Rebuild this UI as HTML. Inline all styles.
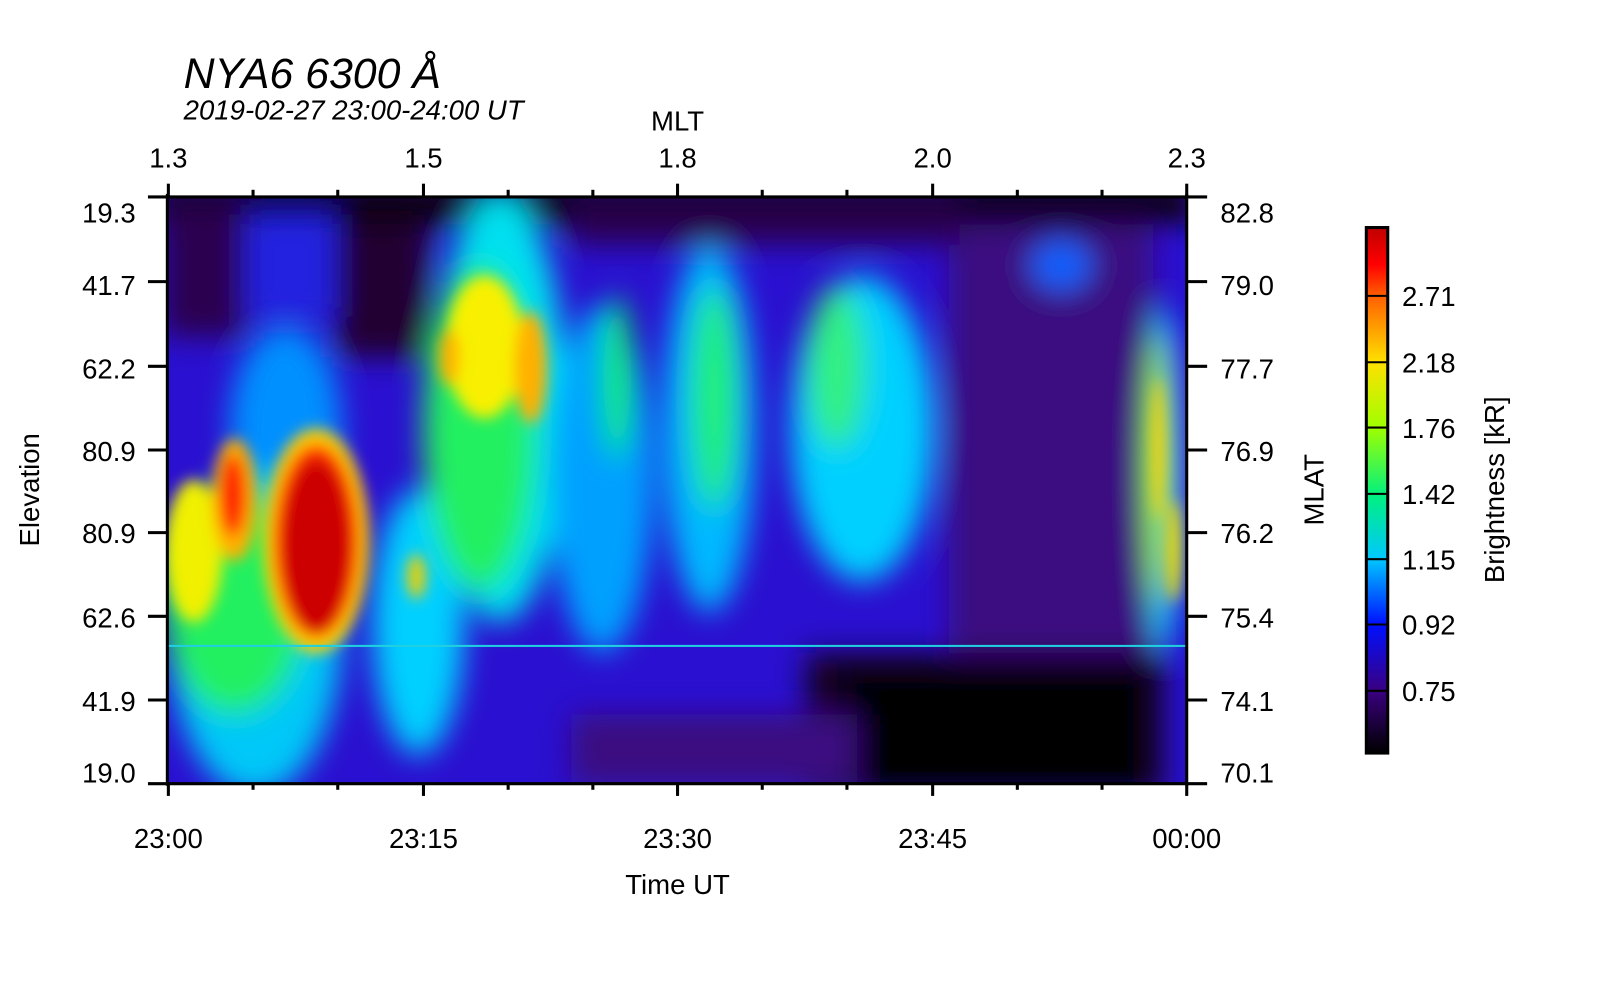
<!DOCTYPE html>
<html><head><meta charset="utf-8"><style>
html,body{margin:0;padding:0;background:#fff;}
svg{display:block;font-family:"Liberation Sans",sans-serif;}
</style></head><body>
<svg width="1600" height="1000" viewBox="0 0 1600 1000" xmlns="http://www.w3.org/2000/svg">
<defs>
<filter id="b" x="-20%" y="-20%" width="140%" height="140%"><feGaussianBlur stdDeviation="14"/></filter>
<filter id="b2" x="-20%" y="-20%" width="140%" height="140%"><feGaussianBlur stdDeviation="7"/></filter>
<clipPath id="c"><rect x="165" y="193" width="998" height="575"/></clipPath>
<linearGradient id="cb" x1="0" y1="1" x2="0" y2="0">
<stop offset="0" stop-color="#000"/>
<stop offset="0.118" stop-color="#3a0080"/>
<stop offset="0.245" stop-color="#0010ff"/>
<stop offset="0.37" stop-color="#00c8ff"/>
<stop offset="0.49" stop-color="#00f080"/>
<stop offset="0.62" stop-color="#a0ff00"/>
<stop offset="0.744" stop-color="#ffe000"/>
<stop offset="0.87" stop-color="#ff6000"/>
<stop offset="0.93" stop-color="#ff0000"/>
<stop offset="1" stop-color="#c00000"/>
</linearGradient>
</defs>
<g transform="scale(1.0204)">
<g clip-path="url(#c)">
<rect x="165" y="193" width="998" height="575" fill="#2a10d0"/>
<g filter="url(#b)">
<rect x="930" y="193" width="200" height="575" fill="#3a0a80"/>
<rect x="790" y="640" width="350" height="140" fill="#150020"/>
<rect x="830" y="660" width="290" height="110" fill="#050005"/>
<rect x="560" y="700" width="280" height="70" fill="#3a0a80"/>
<rect x="150" y="180" width="1020" height="40" fill="#100010"/>
<rect x="160" y="200" width="80" height="130" fill="#2a0050"/>
<rect x="330" y="220" width="90" height="130" fill="#200030"/>
<rect x="240" y="210" width="90" height="100" fill="#2020e0"/>
<rect x="560" y="200" width="380" height="40" fill="#2a0050"/>
<ellipse cx="280" cy="420" rx="55" ry="100" fill="#0090ff"/>
<ellipse cx="250" cy="620" rx="85" ry="160" fill="#00c8f8"/>
<ellipse cx="410" cy="610" rx="45" ry="130" fill="#00d0ff"/>
<ellipse cx="490" cy="400" rx="65" ry="210" fill="#00e0f0"/>
<ellipse cx="590" cy="470" rx="50" ry="170" fill="#00a0ff"/>
<ellipse cx="695" cy="420" rx="45" ry="180" fill="#00b8ff"/>
<ellipse cx="845" cy="420" rx="70" ry="150" fill="#00d0ff"/>
<ellipse cx="1140" cy="470" rx="16" ry="170" fill="#00d8ff"/>
<ellipse cx="1040" cy="260" rx="30" ry="25" fill="#1060ff"/>
<ellipse cx="230" cy="590" rx="70" ry="110" fill="#20f060"/>
<ellipse cx="470" cy="420" rx="55" ry="160" fill="#20f060"/>
<ellipse cx="605" cy="370" rx="14" ry="80" fill="#10f050"/>
<ellipse cx="700" cy="390" rx="22" ry="110" fill="#20f070"/>
<ellipse cx="820" cy="360" rx="28" ry="80" fill="#30f080"/>
<ellipse cx="1135" cy="460" rx="12" ry="130" fill="#a0ff00"/>
</g>
<g filter="url(#b2)">
<ellipse cx="190" cy="540" rx="28" ry="70" fill="#f0f000"/>
<ellipse cx="230" cy="490" rx="22" ry="60" fill="#ffb000"/>
<ellipse cx="228" cy="485" rx="13" ry="40" fill="#ff2000"/>
<ellipse cx="310" cy="530" rx="52" ry="110" fill="#ffd000"/>
<ellipse cx="310" cy="530" rx="42" ry="95" fill="#ff3000"/>
<ellipse cx="310" cy="535" rx="33" ry="85" fill="#cc0000"/>
<ellipse cx="475" cy="340" rx="38" ry="70" fill="#f8f000"/>
<ellipse cx="520" cy="360" rx="16" ry="55" fill="#ffb000"/>
<ellipse cx="440" cy="350" rx="10" ry="28" fill="#ffb000"/>
<ellipse cx="408" cy="565" rx="9" ry="22" fill="#f0d000"/>
<ellipse cx="1135" cy="440" rx="6" ry="70" fill="#ffd000"/>
<ellipse cx="1150" cy="540" rx="7" ry="50" fill="#f0e000"/>
</g>
<rect x="165" y="632" width="998" height="2" fill="#20d0e0"/>
</g>
<g stroke="#000" stroke-width="3" fill="none">
<line x1="164" y1="190" x2="164" y2="770"/>
<line x1="1163" y1="190" x2="1163" y2="770"/>
<line x1="145" y1="193" x2="1163" y2="193"/>
<line x1="145" y1="768" x2="1163" y2="768"/>
</g>
<g stroke="#000" stroke-width="3">
<line x1="165" y1="180" x2="165" y2="193"/><line x1="415" y1="180" x2="415" y2="193"/><line x1="664" y1="180" x2="664" y2="193"/><line x1="914" y1="180" x2="914" y2="193"/><line x1="1163" y1="180" x2="1163" y2="193"/>
<line x1="248" y1="186" x2="248" y2="193"/><line x1="331" y1="186" x2="331" y2="193"/><line x1="498" y1="186" x2="498" y2="193"/><line x1="581" y1="186" x2="581" y2="193"/><line x1="747" y1="186" x2="747" y2="193"/><line x1="830" y1="186" x2="830" y2="193"/><line x1="997" y1="186" x2="997" y2="193"/><line x1="1080" y1="186" x2="1080" y2="193"/>
<line x1="165" y1="768" x2="165" y2="780"/><line x1="415" y1="768" x2="415" y2="780"/><line x1="664" y1="768" x2="664" y2="780"/><line x1="914" y1="768" x2="914" y2="780"/><line x1="1163" y1="768" x2="1163" y2="780"/>
<line x1="248" y1="768" x2="248" y2="774"/><line x1="331" y1="768" x2="331" y2="774"/><line x1="498" y1="768" x2="498" y2="774"/><line x1="581" y1="768" x2="581" y2="774"/><line x1="747" y1="768" x2="747" y2="774"/><line x1="830" y1="768" x2="830" y2="774"/><line x1="997" y1="768" x2="997" y2="774"/><line x1="1080" y1="768" x2="1080" y2="774"/>
<line x1="145" y1="276" x2="165" y2="276"/><line x1="145" y1="359" x2="165" y2="359"/><line x1="145" y1="441" x2="165" y2="441"/><line x1="145" y1="522" x2="165" y2="522"/><line x1="145" y1="604" x2="165" y2="604"/><line x1="145" y1="686" x2="165" y2="686"/>
<line x1="1163" y1="193" x2="1183" y2="193"/><line x1="1163" y1="276" x2="1183" y2="276"/><line x1="1163" y1="359" x2="1183" y2="359"/><line x1="1163" y1="441" x2="1183" y2="441"/><line x1="1163" y1="522" x2="1183" y2="522"/><line x1="1163" y1="604" x2="1183" y2="604"/><line x1="1163" y1="686" x2="1183" y2="686"/><line x1="1163" y1="768" x2="1183" y2="768"/>
</g>
<g font-size="27" fill="#000">
<g text-anchor="end">
<text x="133" y="218">19.3</text><text x="133" y="289">41.7</text><text x="133" y="371">62.2</text><text x="133" y="452">80.9</text><text x="133" y="532">80.9</text><text x="133" y="615">62.6</text><text x="133" y="697">41.9</text><text x="133" y="767">19.0</text>
</g>
<text x="1196" y="218">82.8</text><text x="1196" y="289">79.0</text><text x="1196" y="371">77.7</text><text x="1196" y="452">76.9</text><text x="1196" y="532">76.2</text><text x="1196" y="615">75.4</text><text x="1196" y="697">74.1</text><text x="1196" y="767">70.1</text>
<g text-anchor="middle">
<text x="165" y="164">1.3</text><text x="415" y="164">1.5</text><text x="664" y="164">1.8</text><text x="914" y="164">2.0</text><text x="1163" y="164">2.3</text>
<text x="664" y="128">MLT</text>
<text x="165" y="831">23:00</text><text x="415" y="831">23:15</text><text x="664" y="831">23:30</text><text x="914" y="831">23:45</text><text x="1163" y="831">00:00</text>
<text x="664" y="876">Time UT</text>
</g>
<text transform="translate(38,480) rotate(-90)" text-anchor="middle">Elevation</text>
<text transform="translate(1297,480) rotate(-90)" text-anchor="middle">MLAT</text>
<text transform="translate(1474,480) rotate(-90)" text-anchor="middle">Brightness [kR]</text>
<text x="1374" y="300">2.71</text><text x="1374" y="365">2.18</text><text x="1374" y="429">1.76</text><text x="1374" y="494">1.42</text><text x="1374" y="558">1.15</text><text x="1374" y="622">0.92</text><text x="1374" y="687">0.75</text>
</g>
<text x="180" y="86" font-size="42" font-style="italic">NYA6 6300 Å</text>
<text x="180" y="117" font-size="27" font-style="italic">2019-02-27 23:00-24:00 UT</text>
<rect x="1339" y="223" width="21" height="515" fill="url(#cb)" stroke="#000" stroke-width="3"/>
<g stroke="#000" stroke-width="2">
<line x1="1339" y1="290" x2="1360" y2="290"/><line x1="1339" y1="355" x2="1360" y2="355"/><line x1="1339" y1="419" x2="1360" y2="419"/><line x1="1339" y1="484" x2="1360" y2="484"/><line x1="1339" y1="548" x2="1360" y2="548"/><line x1="1339" y1="612" x2="1360" y2="612"/><line x1="1339" y1="677" x2="1360" y2="677"/>
</g>
</g>
</svg>
</body></html>
